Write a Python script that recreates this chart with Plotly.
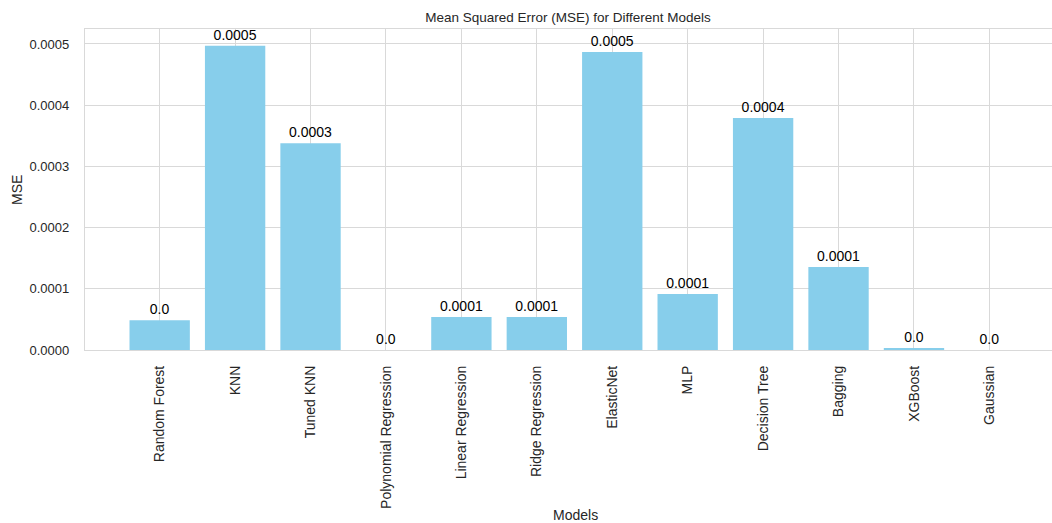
import plotly.graph_objects as go

models = ["Random Forest", "KNN", "Tuned KNN", "Polynomial Regression", "Linear Regression",
          "Ridge Regression", "ElasticNet", "MLP", "Decision Tree", "Bagging", "XGBoost", "Gaussian"]
mse = [0.0000485, 0.000497, 0.000338, 0.000000001, 0.000054, 0.000054, 0.000487,
       0.0000915, 0.000379, 0.0001356, 0.000002, 0.000000001]
labels = [str(round(v, 4)) for v in mse]

font_family = "Liberation Sans, Arial, sans-serif"
text_color = "#262626"
grid_color = "#d9d9d9"
W, H = 1052, 523
L, R, T, B = 85, 0, 29, 173

fig = go.Figure(go.Bar(
    x=models, y=mse, marker_color="#87CEEB", marker_line_width=0, width=0.8,
    text=labels, textposition="outside", cliponaxis=False, constraintext="none",
    textfont=dict(family=font_family, size=14, color="black"),
))

fig.update_layout(
    width=W, height=H,
    margin=dict(l=L, r=R, t=T, b=B, autoexpand=False),
    paper_bgcolor="white", plot_bgcolor="white",
    showlegend=False,
    font=dict(family=font_family, size=13, color=text_color),
    title=dict(text="Mean Squared Error (MSE) for Different Models", x=568 / W, xanchor="center",
               y=1 - 17 / H, yanchor="middle", yref="container",
               font=dict(family=font_family, size=13.5, color=text_color)),
    annotations=[
        dict(text="Models", xref="paper", yref="paper", x=(575 - L) / (W - L - R),
             y=-(515 - (H - B)) / (H - T - B), xanchor="center", yanchor="middle",
             showarrow=False, font=dict(family=font_family, size=14, color=text_color)),
        dict(text="MSE", xref="paper", yref="paper", x=-(L - 17) / (W - L - R),
             y=1 - (190 - T) / (H - T - B), xanchor="center", yanchor="middle", textangle=-90,
             showarrow=False, font=dict(family=font_family, size=14, color=text_color)),
    ],
)
fig.update_xaxes(
    type="category", range=[-0.99, 11.83], tickangle=-90, automargin=False,
    showgrid=True, gridcolor=grid_color, gridwidth=1.3,
    showline=True, linecolor=grid_color, linewidth=1.3, mirror=True,
    ticks="", ticklabelstandoff=9,
    tickfont=dict(family=font_family, size=14, color=text_color),
)
fig.update_yaxes(
    range=[0, 0.0005245], dtick=0.0001, tick0=0, tickformat=".4f", automargin=False,
    showgrid=True, gridcolor=grid_color, gridwidth=1.3, zeroline=False,
    showline=True, linecolor=grid_color, linewidth=1.3, mirror=True,
    ticks="", ticklabelstandoff=12,
    tickfont=dict(family=font_family, size=13, color=text_color),
)

fig.write_html("out.html", config={"displayModeBar": False},
               post_script="document.body.style.margin='0';")
